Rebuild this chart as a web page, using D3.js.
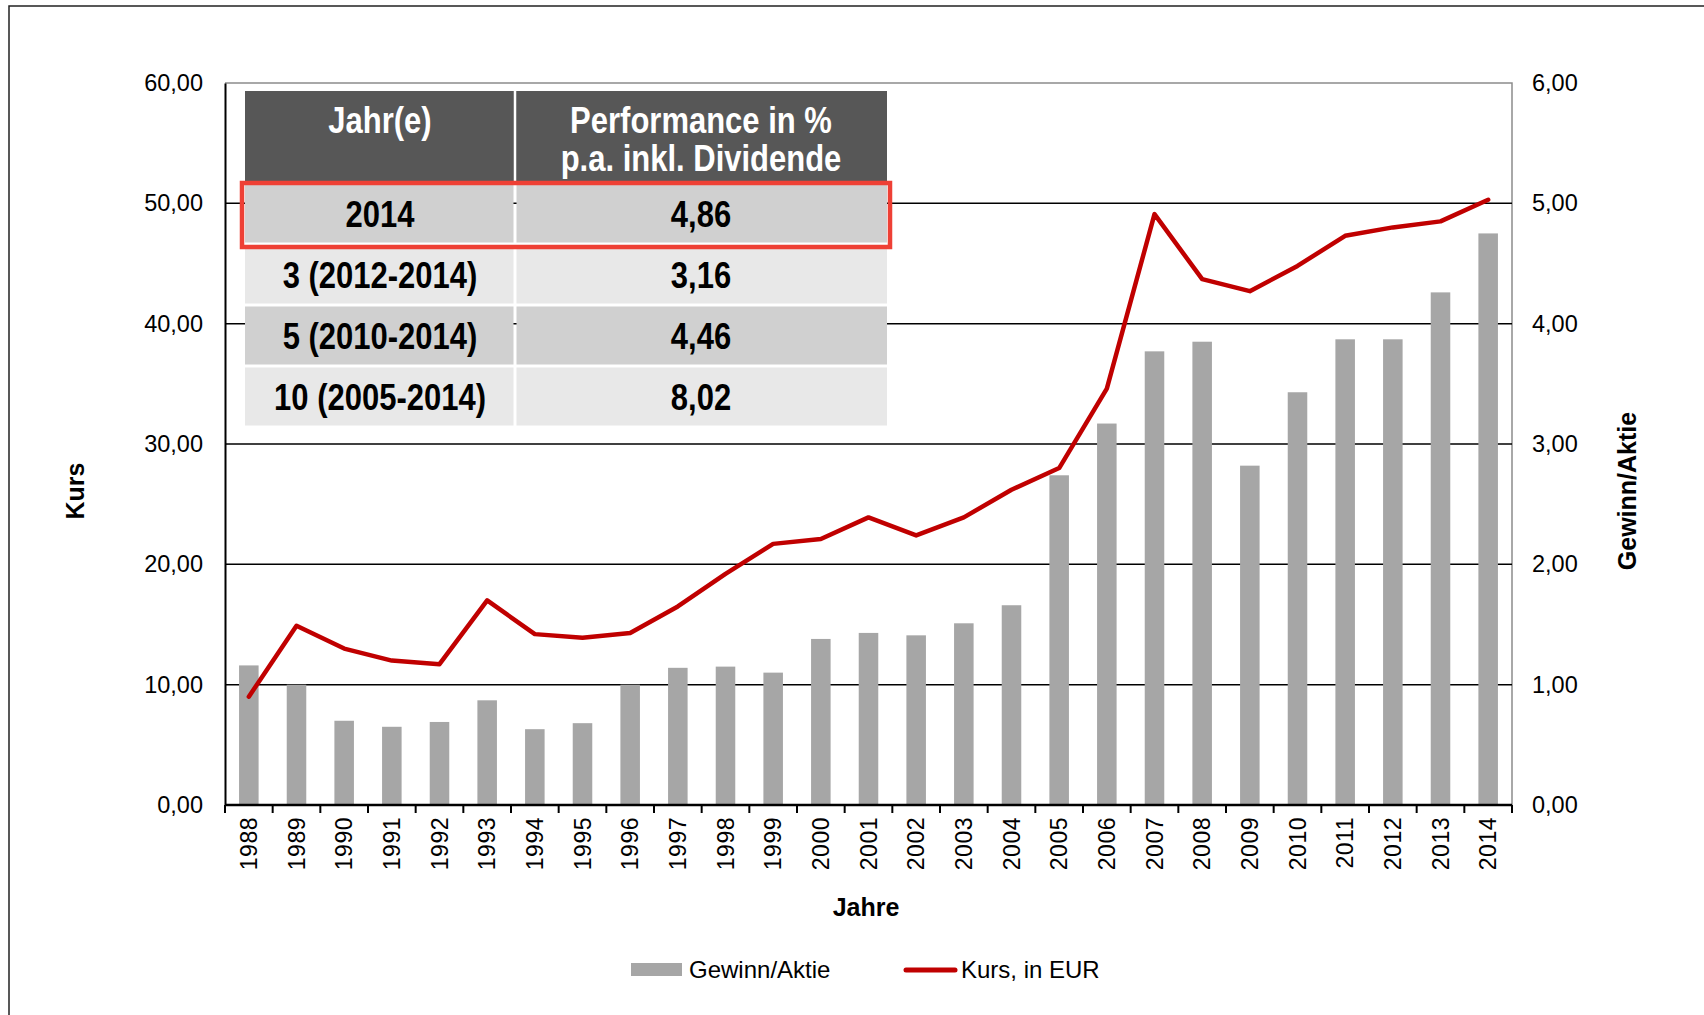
<!DOCTYPE html>
<html>
<head>
<meta charset="utf-8">
<script src="https://cdn.jsdelivr.net/npm/d3@7/dist/d3.min.js"></script>
<style>
  body { margin: 0; background: #fff; }
  svg { display: block; font-family: "Liberation Sans", Arial, sans-serif; }
</style>
</head>
<body>
<svg id="chart" width="1704" height="1015"></svg>
<script>
// data
var years = [1988, 1989, 1990, 1991, 1992, 1993, 1994, 1995, 1996, 1997, 1998, 1999, 2000,
  2001, 2002, 2003, 2004, 2005, 2006, 2007, 2008, 2009, 2010, 2011, 2012, 2013, 2014];
var gewinn = [1.16, 1.00, 0.70, 0.65, 0.69, 0.87, 0.63, 0.68, 1.00, 1.14, 1.15, 1.10, 1.38,
  1.43, 1.41, 1.51, 1.66, 2.74, 3.17, 3.77, 3.85, 2.82, 3.43, 3.87, 3.87, 4.26, 4.75];
var kurs = [9.0, 14.9, 13.0, 12.0, 11.7, 17.0, 14.2, 13.9, 14.3, 16.5, 19.2, 21.7, 22.1,
  23.9, 22.4, 23.9, 26.2, 28.0, 34.6, 49.1, 43.7, 42.7, 44.8, 47.3, 48.0, 48.5, 50.3];
var leftTicks = [0, 10, 20, 30, 40, 50, 60];
var rightTicks = [0, 1, 2, 3, 4, 5, 6];

var tableHeader = [["Jahr(e)"], ["Performance in %", "p.a. inkl. Dividende"]];
var tableYears = ["2014", "3 (2012-2014)", "5 (2010-2014)", "10 (2005-2014)"];
var tablePerf = ["4,86", "3,16", "4,46", "8,02"];

var RED = "#c00000", GREY = "#a6a6a6";
var fmt = function(v) { return d3.format(".2f")(v).replace(".", ","); };

var svg = d3.select("#chart");
var W = 1704, H = 1015;
var m = { left: 225, right: 1512, top: 83, bottom: 805 };

// outer frame (runs off the right / bottom edge)
svg.append("rect")
  .attr("x", 9).attr("y", 6)
  .attr("width", W).attr("height", H)
  .attr("fill", "none").attr("stroke", "#222").attr("stroke-width", 1.5);

var x = d3.scaleBand().domain(years).range([m.left, m.right])
  .paddingInner(0.59).paddingOuter(0.295);
var yL = d3.scaleLinear().domain([0, 60]).range([m.bottom, m.top]);
var yR = d3.scaleLinear().domain([0, 6]).range([m.bottom, m.top]);

// plot border: grey top / right
svg.append("path")
  .attr("d", `M${m.left},${m.top}H${m.right}V${m.bottom}`)
  .attr("fill", "none").attr("stroke", "#8c8c8c").attr("stroke-width", 1.5);

// gridlines
svg.append("g").selectAll("line")
  .data(leftTicks.slice(1, -1))
  .join("line")
  .attr("x1", m.left).attr("x2", m.right)
  .attr("y1", d => yL(d)).attr("y2", d => yL(d))
  .attr("stroke", "#000").attr("stroke-width", 1.5);

// bars
svg.append("g").selectAll("rect")
  .data(years)
  .join("rect")
  .attr("x", d => x(d))
  .attr("width", x.bandwidth())
  .attr("y", (d, i) => yR(gewinn[i]))
  .attr("height", (d, i) => m.bottom - yR(gewinn[i]))
  .attr("fill", GREY);

// line
var line = d3.line()
  .x((d, i) => x(years[i]) + x.bandwidth() / 2)
  .y(d => yL(d));
svg.append("path")
  .datum(kurs)
  .attr("d", line)
  .attr("fill", "none").attr("stroke", RED)
  .attr("stroke-width", 4.5).attr("stroke-linejoin", "round").attr("stroke-linecap", "round");

// left axis
var axL = svg.append("g")
  .attr("transform", `translate(${m.left},0)`)
  .call(d3.axisLeft(yL).tickValues(leftTicks).tickSize(0).tickPadding(22).tickFormat(fmt));
axL.select(".domain").attr("stroke", "#000").attr("stroke-width", 2);
axL.selectAll("text").attr("font-size", 23.5).attr("fill", "#000")
  .attr("font-family", "Liberation Sans, Arial, sans-serif");

// right axis
var axR = svg.append("g")
  .attr("transform", `translate(${m.right},0)`)
  .call(d3.axisRight(yR).tickValues(rightTicks).tickSize(0).tickPadding(20).tickFormat(fmt));
axR.select(".domain").remove();
axR.selectAll("text").attr("font-size", 23.5).attr("fill", "#000")
  .attr("font-family", "Liberation Sans, Arial, sans-serif");

// bottom axis
var axB = svg.append("g")
  .attr("transform", `translate(0,${m.bottom})`)
  .call(d3.axisBottom(x).tickSize(0).tickPadding(0));
axB.select(".domain").attr("d", `M${m.left},0H${m.right}`)
  .attr("stroke", "#000").attr("stroke-width", 2.5);
axB.selectAll(".tick text")
  .attr("font-size", 23).attr("fill", "#000")
  .attr("font-family", "Liberation Sans, Arial, sans-serif")
  .attr("letter-spacing", 0.5)
  .attr("text-anchor", "end")
  .attr("dy", null)
  .attr("transform", "translate(8,12) rotate(-90)");

// tick marks at category boundaries
svg.append("g").selectAll("line")
  .data(d3.range(years.length + 1))
  .join("line")
  .attr("x1", i => m.left + i * x.step()).attr("x2", i => m.left + i * x.step())
  .attr("y1", m.bottom).attr("y2", m.bottom + 8)
  .attr("stroke", "#000").attr("stroke-width", 2);

// axis titles
svg.append("text").text("Kurs")
  .attr("transform", "translate(84,491) rotate(-90)")
  .attr("text-anchor", "middle").attr("font-size", 25).attr("font-weight", "bold");
svg.append("text").text("Gewinn/Aktie")
  .attr("transform", "translate(1636,491) rotate(-90)")
  .attr("text-anchor", "middle").attr("font-size", 25).attr("font-weight", "bold");
svg.append("text").text("Jahre")
  .attr("x", 866).attr("y", 916)
  .attr("text-anchor", "middle").attr("font-size", 25).attr("font-weight", "bold");

// legend
var leg = svg.append("g");
leg.append("rect").attr("x", 631).attr("y", 963).attr("width", 51).attr("height", 13).attr("fill", GREY);
leg.append("text").text("Gewinn/Aktie").attr("x", 689).attr("y", 978).attr("font-size", 24);
leg.append("line").attr("x1", 906).attr("x2", 955).attr("y1", 970).attr("y2", 970)
  .attr("stroke", RED).attr("stroke-width", 5).attr("stroke-linecap", "round");
leg.append("text").text("Kurs, in EUR").attr("x", 961).attr("y", 978).attr("font-size", 24);

// performance table
var tb = { x0: 245, x1: 515, x2: 887, top: 91, headH: 92, rowH: 61 };
var tg = svg.append("g");
var stretched = function(sel, tx, ty, str, color) {
  sel.append("text")
    .attr("transform", `translate(${tx},${ty}) scale(1,1.18)`)
    .attr("text-anchor", "middle")
    .attr("font-size", 31).attr("font-weight", "bold")
    .attr("fill", color)
    .text(str);
};

tg.append("rect").attr("x", tb.x0).attr("y", tb.top)
  .attr("width", tb.x2 - tb.x0).attr("height", tb.headH).attr("fill", "#575757");
tg.append("line").attr("x1", tb.x1).attr("x2", tb.x1)
  .attr("y1", tb.top).attr("y2", tb.top + tb.headH).attr("stroke", "#fff").attr("stroke-width", 2.5);
stretched(tg, (tb.x0 + tb.x1) / 2, 133, tableHeader[0][0], "#fff");
stretched(tg, (tb.x1 + tb.x2) / 2, 133, tableHeader[1][0], "#fff");
stretched(tg, (tb.x1 + tb.x2) / 2, 171, tableHeader[1][1], "#fff");

tableYears.forEach(function(label, i) {
  var y0 = tb.top + tb.headH + i * tb.rowH;
  var fill = i % 2 === 0 ? "#d0d0d0" : "#e8e8e8";
  tg.append("rect").attr("x", tb.x0).attr("y", y0 + 1.5)
    .attr("width", tb.x1 - tb.x0 - 1.5).attr("height", tb.rowH - 3).attr("fill", fill);
  tg.append("rect").attr("x", tb.x1 + 1.5).attr("y", y0 + 1.5)
    .attr("width", tb.x2 - tb.x1 - 1.5).attr("height", tb.rowH - 3).attr("fill", fill);
  stretched(tg, (tb.x0 + tb.x1) / 2, y0 + 44, label, "#000");
  stretched(tg, (tb.x1 + tb.x2) / 2, y0 + 44, tablePerf[i], "#000");
});

// red highlight around the first row
tg.append("rect")
  .attr("x", tb.x0 - 3).attr("y", tb.top + tb.headH)
  .attr("width", tb.x2 - tb.x0 + 6).attr("height", tb.rowH + 3)
  .attr("fill", "none").attr("stroke", "#ee4035").attr("stroke-width", 4.5);
</script>
</body>
</html>
